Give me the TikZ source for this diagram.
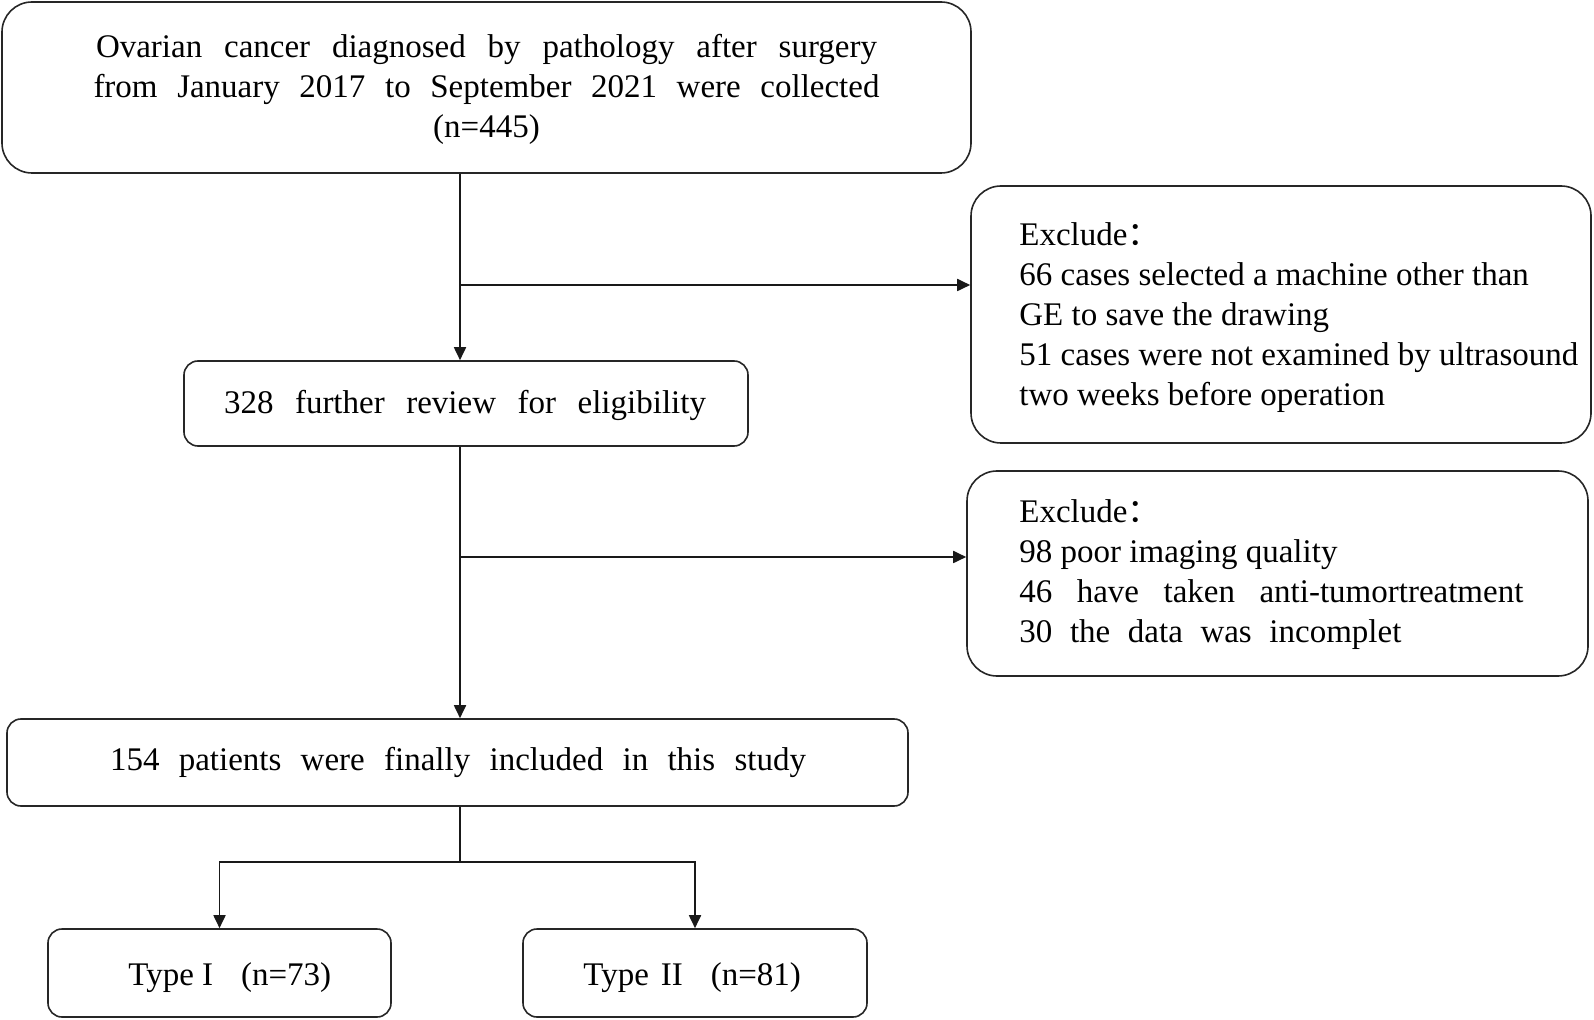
\documentclass[tikz,border=0pt]{standalone}
\usepackage{fontspec}
\setmainfont{Liberation Serif}
\newfontfamily\cjk{Noto Sans CJK SC}
\usetikzlibrary{arrows.meta}
\begin{document}
\begin{tikzpicture}[x=0.5pt,y=-0.5pt,
  box/.style={draw=black!85,line width=0.8pt,rounded corners=7pt,inner sep=0pt,
    font=\fontsize{16.5}{20}\selectfont,align=center},
  bigbox/.style={box,rounded corners=15pt},
  txt/.style={inner sep=0pt,font=\fontsize{16.5}{20}\selectfont,align=left},
  conn/.style={draw=black!90,line width=0.9pt},
  arr/.style={conn,-{Triangle[length=6.5pt,width=6pt]}}]
\useasboundingbox (0,0) rectangle (1594,1020);
% boxes
\node[bigbox,minimum width=484.5pt,minimum height=85.5pt] (top) at (486.5,87.5) {};
\node[txt,align=center] (topt) at (486.5,89)
  {\makebox[390.5pt][s]{Ovarian cancer diagnosed by pathology after surgery}\\
   \makebox[393pt][s]{from January 2017 to September 2021 were collected}\\
   (n=445)};
\node[bigbox,minimum width=310pt,minimum height=128.5pt] (ex1) at (1281,314.5) {};
\node[txt,anchor=west] (ex1t) at (1019,317.5)
  {Exclude{\cjk ：}\\
   66 cases selected a machine other than\\
   GE to save the drawing\\
   51 cases were not examined by ultrasound\\
   two weeks before operation};
\node[box,minimum width=282pt,minimum height=42.5pt] (rev) at (466,403.5) {};
\node[txt] (revt) at (465,405)
  {\makebox[241pt][s]{328 further review for eligibility}};
\node[bigbox,minimum width=310.5pt,minimum height=102.5pt] (ex2) at (1277.5,573.5) {};
\node[txt,anchor=west] (ex2t) at (1019,574.5)
  {Exclude{\cjk ：}\\
   98 poor imaging quality\\
   \makebox[252pt][s]{46 have taken anti-tumortreatment}\\
   \makebox[191pt][s]{30 the data was incomplet}};
\node[box,minimum width=450.5pt,minimum height=43.5pt] (inc) at (457.5,762.5) {};
\node[txt] (inct) at (458,762.5)
  {\makebox[348pt][s]{154 patients were finally included in this study}};
\node[box,minimum width=171.5pt,minimum height=44pt] (t1) at (219.5,973) {};
\node[txt,anchor=west] (t1t) at (128,978) {Type I\hspace{14pt}(n=73)};
\node[box,minimum width=172pt,minimum height=44pt] (t2) at (695,973) {};
\node[txt,anchor=west] (t2t) at (583,978) {Type\hspace{6pt}II\hspace{14pt}(n=81)};
% spine coordinates
\coordinate (s0) at (460,0);
\coordinate (b1) at (460,285);
\coordinate (b2) at (460,557);
\coordinate (sp) at (460,862);
% connectors
\draw[arr] (top.south -| s0) -- (rev.north -| s0);
\draw[arr] (b1) -- (b1 -| ex1.west);
\draw[arr] (rev.south -| s0) -- (inc.north -| s0);
\draw[arr] (b2) -- (b2 -| ex2.west);
\draw[conn] (inc.south -| s0) -- (sp);
\draw[arr] (sp) -| (t1.north);
\draw[arr] (sp) -| (t2.north);
\end{tikzpicture}
\end{document}
